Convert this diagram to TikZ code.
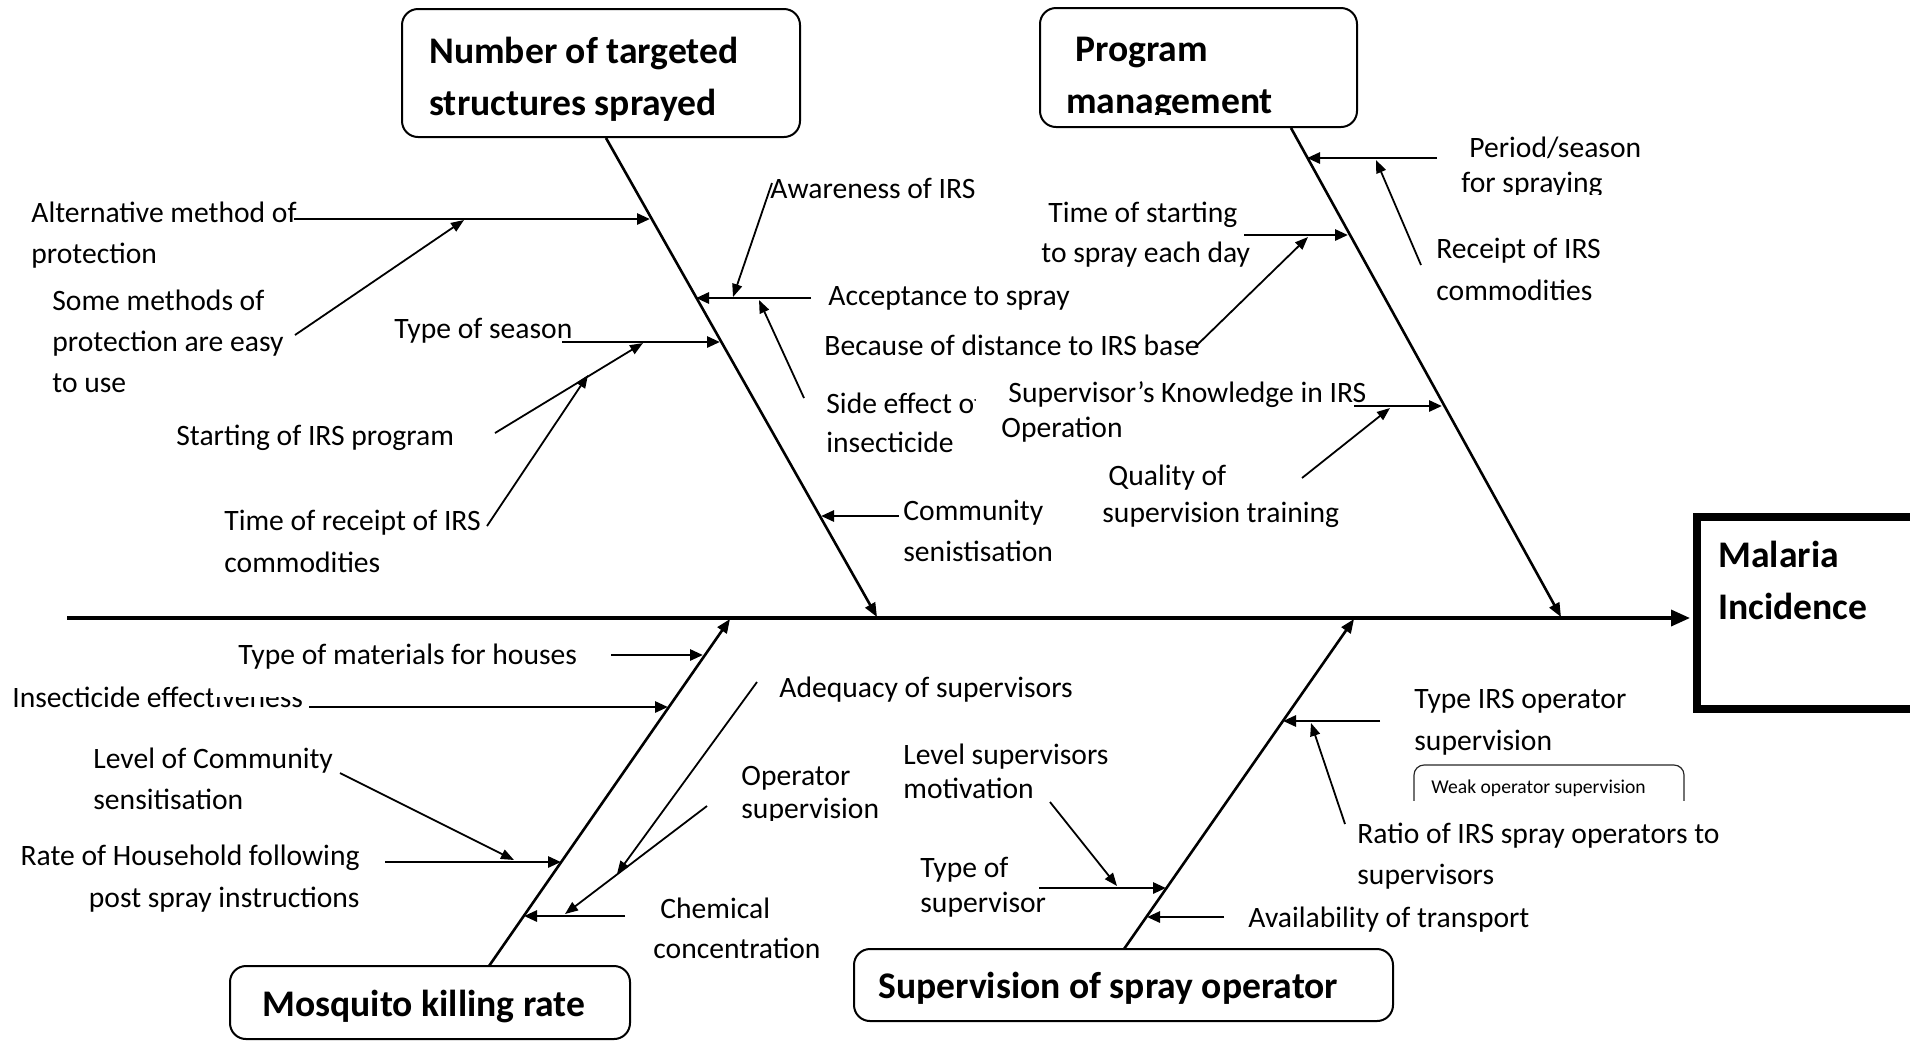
\documentclass[tikz,border=0pt]{standalone}
\usepackage{fontspec}
\setmainfont{Carlito}
\usetikzlibrary{arrows.meta}
\newcommand\lblf{\fontsize{14.8}{20.5}\selectfont}
\newcommand\hdf{\fontsize{18.8}{26}\selectfont\bfseries}
\newcommand\smf{\fontsize{9.8}{12}\selectfont}
\begin{document}
\begin{tikzpicture}[x=0.5pt,y=-0.5pt,
  lbl/.style={font=\lblf, inner sep=0pt, anchor=base west, align=left},
  hd/.style={font=\hdf, inner sep=0pt, anchor=base west, align=left},
  hbox/.style={draw, line width=1pt, rounded corners=8pt},
  spine/.style={line width=1.8pt, -{Triangle[length=9.5pt,width=8pt]}},
  bone/.style={line width=1.3pt, -{Triangle[length=7pt,width=5.5pt]}},
  harr/.style={line width=1.4pt, -{Triangle[length=6.5pt,width=5.5pt]}},
  darr/.style={line width=0.9pt, -{Triangle[length=6.5pt,width=5pt]}}]
\useasboundingbox (0,0) rectangle (1910,1041);
\clip (0,0) rectangle (1910,1041);

% ---------- category boxes ----------
\draw[hbox] (402,9) rectangle (800,137);
\node[hd] (h1) at (429,115) {Number of targeted\\structures sprayed};
\draw[hbox] (1040,8) rectangle (1357,127);
\begin{scope}
  \clip (1045,20) rectangle (1350,114.5);
  \node[hd] (h2) at (1066,113) {\hspace*{4.5pt}Program\\management};
\end{scope}
\draw[hbox] (230,966) rectangle (630,1039);
\node[hd] (h3) at (262,1016) {Mosquito killing rate};
\draw[hbox] (854,949) rectangle (1393,1021);
\node[hd] (h4) at (878,998) {Supervision of spray operator};
\draw[line width=4pt] (1697,517) rectangle (1960,709);
\node[hd] (h5) at (1718,619) {Malaria\\Incidence};

% ---------- spine and bones ----------
\coordinate (S0) at (67,618);
\coordinate (S1) at (1690,618);
\draw[spine] (S0) -- (S1);
\coordinate (B1a) at (606,138); \coordinate (B1b) at (877,617);
\coordinate (B2a) at (1291,128); \coordinate (B2b) at (1561,617);
\coordinate (B3a) at (489,966); \coordinate (B3b) at (730,619);
\coordinate (B4a) at (1124,949); \coordinate (B4b) at (1354,619);
\draw[bone] (B1a) -- (B1b);
\draw[bone] (B2a) -- (B2b);
\draw[bone] (B3a) -- (B3b);
\draw[bone] (B4a) -- (B4b);

% ---------- top-left labels ----------
\node[lbl] (alt) at (31,263) {Alternative method of\\protection};
\node[lbl] (some) at (52,392) {Some methods of\\protection are easy\\to use};
\node[lbl] (aware) at (770,198) {Awareness of IRS};
\node[lbl] (accept) at (828,305) {Acceptance to spray};
\node[lbl] (dist) at (824,355) {Because of distance to IRS base};
\begin{scope}
  \clip (790,370) rectangle (975,470);
  \node[lbl] (side) at (826,452) {Side effect of\\[-1pt]insecticide};
\end{scope}
\node[lbl] (season) at (394,338) {Type of season};
\node[lbl] (start) at (176,445) {Starting of IRS program};
\node[lbl] (receipt) at (224,572) {Time of receipt of IRS\\[0.5pt]commodities};
\node[lbl] (comm) at (903,561) {Community\\senistisation};

\coordinate (a1s) at (294,219); \coordinate (a1e) at (650,219);
\coordinate (a2s) at (295,335); \coordinate (a2e) at (464,220);
\coordinate (a3s) at (772,183); \coordinate (a3e) at (733,297);
\coordinate (a4s) at (811,298); \coordinate (a4e) at (696,298);
\coordinate (a5s) at (804,398); \coordinate (a5e) at (759,300);
\coordinate (a6s) at (562,342); \coordinate (a6e) at (720,342);
\coordinate (a7s) at (495,433); \coordinate (a7e) at (643,343);
\coordinate (a8s) at (487,526); \coordinate (a8e) at (588,375);
\coordinate (a9s) at (899,516); \coordinate (a9e) at (821,516);
\draw[harr] (a1s) -- (a1e);
\draw[darr] (a2s) -- (a2e);
\draw[darr] (a3s) -- (a3e);
\draw[harr] (a4s) -- (a4e);
\draw[darr] (a5s) -- (a5e);
\draw[harr] (a6s) -- (a6e);
\draw[darr] (a7s) -- (a7e);
\draw[darr] (a8s) -- (a8e);
\draw[harr] (a9s) -- (a9e);

% ---------- top-right labels ----------
\begin{scope}
  \clip (1440,120) rectangle (1700,194);
  \node[lbl] (period) at (1461,192) {\hspace*{4pt}Period/season\\[-3pt]for spraying};
\end{scope}
\node[lbl] (rcpt) at (1436,300) {Receipt of IRS\\[0.5pt]commodities};
\node[lbl] (tstart) at (1041,262) {\hspace*{3.5pt}Time of starting\\[-0.5pt]to spray each day};
\node[lbl] (know) at (1001,437) {\hspace*{3.5pt}Supervisor’s Knowledge in IRS\\[-3pt]Operation};
\node[lbl] (qual) at (1102,522) {\hspace*{3pt}Quality of\\[-2pt]supervision training};

\coordinate (b1s) at (1437,158); \coordinate (b1e) at (1307,158);
\coordinate (b2s) at (1421,265); \coordinate (b2e) at (1376,160);
\coordinate (b3s) at (1244,235); \coordinate (b3e) at (1348,235);
\coordinate (b4s) at (1195,347); \coordinate (b4e) at (1308,237);
\coordinate (b5s) at (1354,406); \coordinate (b5e) at (1442,406);
\coordinate (b6s) at (1302,478); \coordinate (b6e) at (1390,408);
\draw[harr] (b1s) -- (b1e);
\draw[darr] (b2s) -- (b2e);
\draw[harr] (b3s) -- (b3e);
\draw[darr] (b4s) -- (b4e);
\draw[harr] (b5s) -- (b5e);
\draw[darr] (b6s) -- (b6e);

% ---------- bottom-left labels ----------
\node[lbl] (mat) at (238,664) {Type of materials for houses};
\node[lbl] (insect) at (12,707) {Insecticide effectiveness};
\fill[white] (213,680) rectangle (302,696.5);
\node[lbl] (lcomm) at (93,809) {Level of Community\\sensitisation};
\node[lbl, anchor=base east, align=right] (rate) at (360,907) {Rate of Household following\\[0.5pt]post spray instructions};
\node[lbl] (adeq) at (779,697) {Adequacy of supervisors};
\begin{scope}
  \clip (730,760) rectangle (900,820);
  \node[lbl] (oper) at (741,818) {Operator\\[-4pt]supervision};
\end{scope}
\node[lbl] (chem) at (653,958) {\hspace*{3.5pt}Chemical\\[-0.5pt]concentration};

\coordinate (c1s) at (611,655); \coordinate (c1e) at (703,655);
\coordinate (c2s) at (309,707); \coordinate (c2e) at (668,707);
\coordinate (c3s) at (340,773); \coordinate (c3e) at (514,860);
\coordinate (c4s) at (385,862); \coordinate (c4e) at (561,862);
\coordinate (c5s) at (757,682); \coordinate (c5e) at (617,874);
\coordinate (c6s) at (707,806); \coordinate (c6e) at (565,914);
\coordinate (c7s) at (625,916); \coordinate (c7e) at (524,916);
\draw[harr] (c1s) -- (c1e);
\draw[harr] (c2s) -- (c2e);
\draw[darr] (c3s) -- (c3e);
\draw[harr] (c4s) -- (c4e);
\draw[darr] (c5s) -- (c5e);
\draw[darr] (c6s) -- (c6e);
\draw[harr] (c7s) -- (c7e);

% ---------- bottom-right labels ----------
\node[lbl] (tirs) at (1414,750) {Type IRS operator\\[0.5pt]supervision};
\begin{scope}
  \clip (1400,755) rectangle (1700,800);
  \draw[line width=0.6pt, black!85, rounded corners=5pt] (1414,765) rectangle (1684,840);
  \node[font=\smf, inner sep=0pt, anchor=base west] (weak) at (1431,793) {Weak operator supervision};
\end{scope}
\node[lbl] (ratio) at (1357,884) {Ratio of IRS spray operators to\\supervisors};
\node[lbl] (lsup) at (903,798) {Level supervisors\\[-3.5pt]motivation};
\node[lbl] (tsup) at (920,912) {Type of\\[-3pt]supervisor};
\node[lbl] (trans) at (1248,927) {Availability of transport};

\coordinate (d1s) at (1380,721); \coordinate (d1e) at (1283,721);
\coordinate (d2s) at (1345,824); \coordinate (d2e) at (1311,723);
\coordinate (d3s) at (1050,802); \coordinate (d3e) at (1117,886);
\coordinate (d4s) at (1039,888); \coordinate (d4e) at (1166,888);
\coordinate (d5s) at (1224,917); \coordinate (d5e) at (1147,917);
\draw[harr] (d1s) -- (d1e);
\draw[darr] (d2s) -- (d2e);
\draw[harr] (d4s) -- (d4e);
\draw[darr] (d3s) -- (d3e);
\draw[harr] (d5s) -- (d5e);
\end{tikzpicture}
\end{document}
